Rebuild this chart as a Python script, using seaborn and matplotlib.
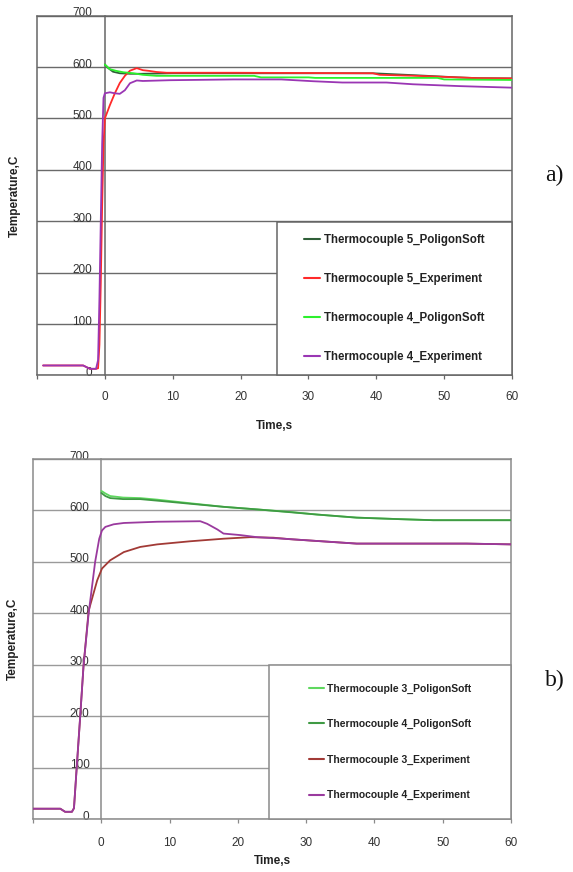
import numpy as np
import pandas as pd
import matplotlib
matplotlib.use("Agg")
import matplotlib.pyplot as plt
import seaborn as sns
from matplotlib.patches import Rectangle
from matplotlib.lines import Line2D
from matplotlib.transforms import ScaledTranslation

# ---------------- shared axis data ----------------
x_ticks = [-10, 0, 10, 20, 30, 40, 50, 60]
x_tick_labels = ["", "0", "10", "20", "30", "40", "50", "60"]
y_ticks = [0, 100, 200, 300, 400, 500, 600, 700]

# ---------------- panel a) ----------------
a_labels = ["Thermocouple 5_PoligonSoft", "Thermocouple 5_Experiment",
            "Thermocouple 4_PoligonSoft", "Thermocouple 4_Experiment"]
a_colors = ["#2f5f38", "#ff2a2a", "#2cf02c", "#9a36b4"]

a_t5_ps_time = [0, 0.5, 1.2, 2.2, 3.7, 5.4, 10, 20, 30, 39.5, 46, 52, 55, 60]
a_t5_ps_temp = [605, 598, 591, 588, 587, 587, 588, 588, 588, 588, 584, 580, 578.5, 578]

a_t5_exp_time = [-9.1, -3.2, -2.2, -1.3, -1.0, -0.8, -0.6, -0.4, -0.2, 0, 0.74, 1.47, 2.2,
                 2.95, 3.7, 4.7, 5.6, 6.6, 7.6, 9.1, 19, 39.5, 40.5, 46, 52, 55, 60]
a_t5_exp_temp = [19.5, 19.5, 13, 13, 14, 60, 180, 330, 450, 500, 526, 549, 569,
                 583, 593, 598, 594, 592.5, 590.5, 589, 589, 588, 585, 583, 580, 578.5, 578]

a_t4_ps_time = [0, 0.74, 1.7, 2.7, 4.2, 5.6, 7.6, 22, 23, 30, 31, 49, 50, 60]
a_t4_ps_temp = [605, 596, 592.6, 590, 588, 585, 583, 583, 580, 580, 579, 579, 576, 575]

a_t4_exp_time = [-9.1, -3.2, -2.2, -1.3, -1.0, -0.8, -0.6, -0.4, -0.2, 0, 0.74, 1.47, 2.2,
                 2.95, 3.7, 4.7, 5.6, 9.6, 19, 26, 30.7, 35, 41.5, 45.4, 52.3, 60]
a_t4_exp_temp = [19.5, 19.5, 13, 13, 30, 150, 300, 450, 540, 549, 551, 549, 548,
                 555, 568.6, 574, 573, 574.5, 576, 576, 572.5, 570, 570, 566.6, 563, 560]

# ---------------- panel b) ----------------
b_labels = ["Thermocouple 3_PoligonSoft", "Thermocouple 4_PoligonSoft",
            "Thermocouple 3_Experiment", "Thermocouple 4_Experiment"]
b_colors = ["#5fd85f", "#3f9a44", "#a23a36", "#9a3a9e"]

b_ps_time = [0, 0.6, 1.3, 3.2, 5.7, 8.2, 13, 17.9, 22.8, 27.7, 31.6, 37.4, 43.8, 48.6, 60]
b_t3_ps_temp = [638, 633, 628, 625, 624, 621, 614, 607, 602, 597, 592, 586, 583, 581, 581]
b_t4_ps_temp = [634, 628, 624, 622, 622, 619, 613, 607, 602, 596.5, 592, 586, 583, 581, 581]

b_t3_exp_time = [-10, -6, -5.3, -4.3, -4.0, -3.6, -3.1, -2.6, -1.85, -0.6, 0.1, 1.3, 3.3, 5.7,
                 8.2, 13, 17.9, 21.8, 25.2, 27.7, 31.6, 37.4, 53.5, 60]
b_t3_exp_temp = [20, 20, 14, 14, 21, 100, 197, 298, 405, 464, 487, 503, 519, 529,
                 534, 540, 545, 548, 547, 544, 540.6, 535.5, 535.5, 534]

b_t4_exp_time = [-10, -6, -5.3, -4.3, -4.0, -3.6, -3.1, -2.6, -1.85, -0.9, -0.3, 0.1, 0.6, 1.8,
                 3.3, 8.2, 14.5, 15.5, 17, 17.9, 20.4, 22.8, 26.7, 31.6, 37.4, 53.5, 60]
b_t4_exp_temp = [20, 20, 14, 14, 21, 100, 197, 298, 400, 500, 545, 561, 568, 573,
                 575.6, 578, 579, 574, 563, 555, 552, 548, 545, 540.6, 535.5, 535.5, 534]

a_series = [(a_t5_ps_time, a_t5_ps_temp), (a_t5_exp_time, a_t5_exp_temp),
            (a_t4_ps_time, a_t4_ps_temp), (a_t4_exp_time, a_t4_exp_temp)]
b_series = [(b_ps_time, b_t3_ps_temp), (b_ps_time, b_t4_ps_temp),
            (b_t3_exp_time, b_t3_exp_temp), (b_t4_exp_time, b_t4_exp_temp)]

sns.set_theme(style="white")
plt.rcParams["font.family"] = ["Liberation Sans", "DejaVu Sans"]

fig = plt.figure(figsize=(5.73, 8.72), dpi=100)
ax1 = fig.add_axes([37 / 573, 1 - 375.5 / 872, 475 / 573, 359.8 / 872])
ax2 = fig.add_axes([33 / 573, 1 - 819 / 872, 478 / 573, 360 / 872])


def build_df(series, labels):
    frames = []
    for (t, v), lab in zip(series, labels):
        frames.append(pd.DataFrame({"Time": t, "Temp": v, "Series": lab}))
    return pd.concat(frames, ignore_index=True)


def panel(ax, series, labels, colors, grid_color, frame_color, leg_box, leg_fs,
          leg_spacing, ylab_x, xlab_y, ypad, xpad):
    df = build_df(series, labels)
    for lab, col in zip(labels, colors):
        sub = df[df["Series"] == lab]
        sns.lineplot(data=sub, x="Time", y="Temp", ax=ax, color=col, lw=1.3,
                     sort=False, estimator=None, legend=False, zorder=3)
    ax.set_xlim(-10, 60)
    ax.set_ylim(0, 700)
    ax.set_xticks(x_ticks)
    ax.set_xticklabels(x_tick_labels)
    ax.set_yticks(y_ticks)
    ax.yaxis.grid(True, color=grid_color, lw=1.0)
    ax.xaxis.grid(False)
    ax.set_axisbelow(True)
    ax.spines["left"].set_position(("data", 0))
    for s in ["left", "right", "top", "bottom"]:
        ax.spines[s].set_color(frame_color)
        ax.spines[s].set_linewidth(1.1)
        ax.spines[s].set_visible(True)
    ax.add_line(Line2D([0, 0], [0, 1], transform=ax.transAxes, color=frame_color,
                       lw=1.1, clip_on=False, zorder=2.5))
    ax.tick_params(axis="y", length=0, pad=ypad, labelsize=8.5, labelcolor="#333333")
    ax.tick_params(axis="x", direction="out", length=3, width=0.9, color=frame_color,
                   pad=xpad, labelsize=8.5, labelcolor="#333333", bottom=True)
    for lab in ax.get_yticklabels():
        lab.set_transform(lab.get_transform() +
                          ScaledTranslation(0, 0.04, fig.dpi_scale_trans))
    ax.set_xlabel("Time,s", fontsize=8.5, fontweight="bold", color="#222222")
    ax.set_ylabel("Temperature,C", fontsize=8.5, fontweight="bold", color="#222222")
    ax.xaxis.set_label_coords(0.5, xlab_y)
    ax.yaxis.set_label_coords(ylab_x, 0.5)
    ax.yaxis.label.set_va("center")
    x0, h = leg_box
    ax.add_patch(Rectangle((x0, 0), 1 - x0, h, transform=ax.transAxes,
                           facecolor="white", edgecolor=frame_color, lw=1.1,
                           zorder=4, clip_on=False))
    handles = [Line2D([], [], color=c, lw=1.5) for c in colors]
    leg = ax.legend(handles, labels, loc="center", bbox_to_anchor=(x0, 0, 1 - x0, h),
                    bbox_transform=ax.transAxes, frameon=False,
                    prop={"size": leg_fs, "weight": "bold"}, handlelength=1.4,
                    handletextpad=0.3, labelspacing=leg_spacing)
    leg.set_zorder(5)
    for t in leg.get_texts():
        t.set_color("#222222")


panel(ax1, a_series, a_labels, a_colors, "#6a6a6a", "#666666",
      (0.505, 0.426), 8.3, 2.35, -0.046, -0.124, 9, 8.5)
panel(ax2, b_series, b_labels, b_colors, "#9a9a9a", "#8a8a8a",
      (0.494, 0.428), 7.5, 2.45, -0.042, -0.10, 8.5, 10)

fig.text(545 / 573, 1 - 175 / 872, "a)", family="Liberation Serif", fontsize=17,
         va="center", ha="left", color="#111111")
fig.text(545 / 573, 1 - 680 / 872, "b)", family="Liberation Serif", fontsize=17,
         va="center", ha="left", color="#111111")

fig.savefig("out.png", dpi=100)
